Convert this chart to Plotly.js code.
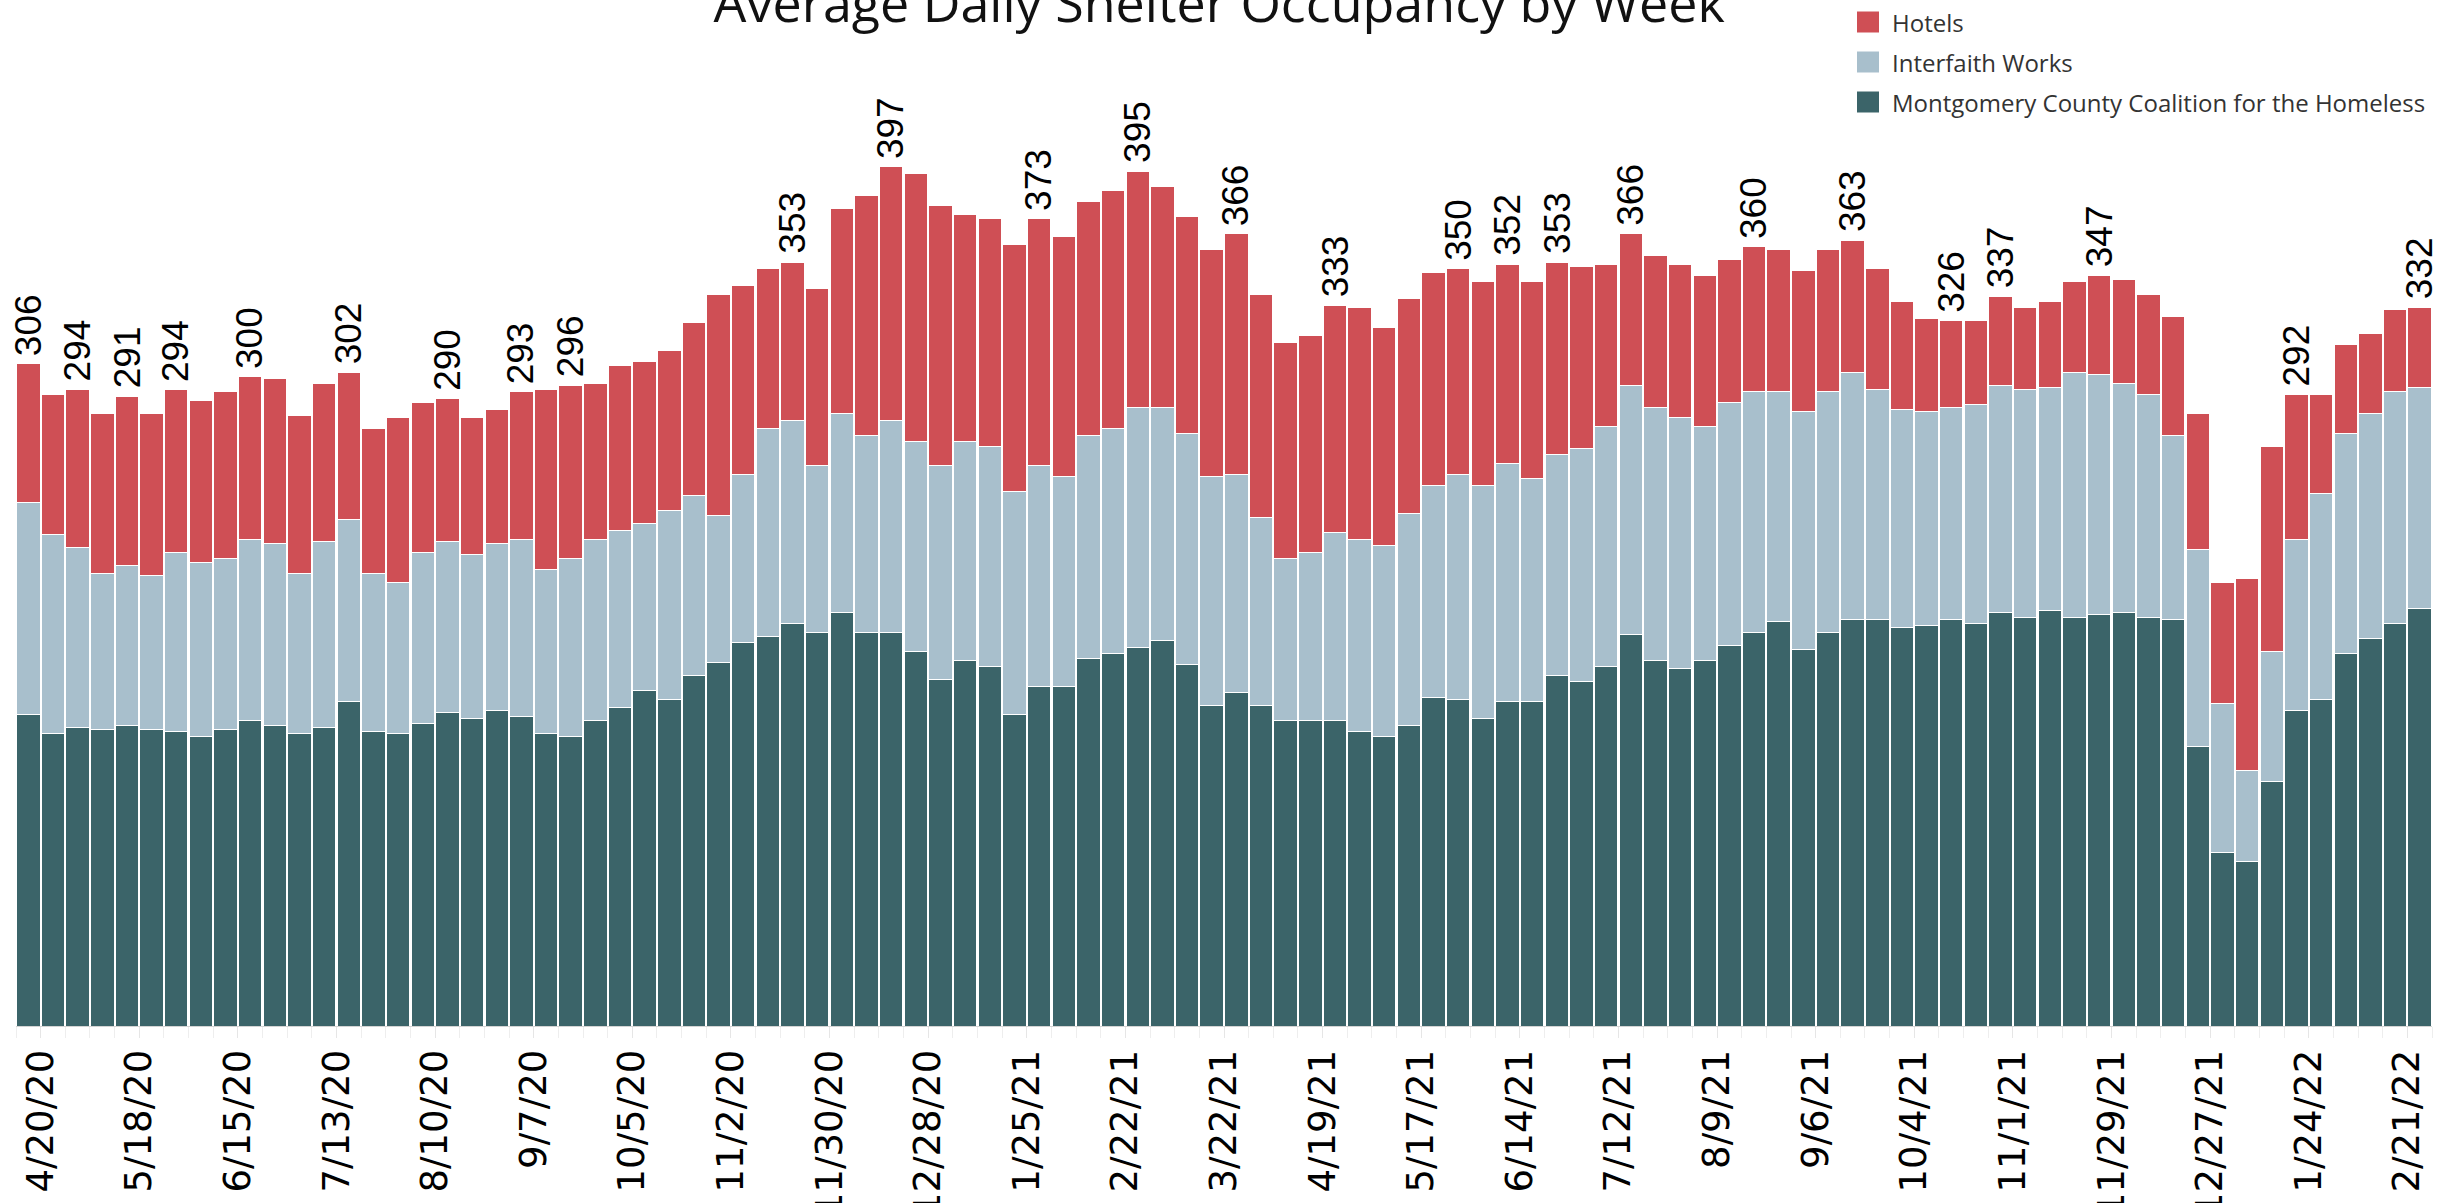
<!DOCTYPE html>
<html>
<head>
<meta charset="utf-8">
<script src="https://cdn.plot.ly/plotly-3.0.1.min.js"></script>
<style>
  html, body { margin: 0; padding: 0; background: #ffffff; }
  #chart { width: 2458px; height: 1203px; }
</style>
</head>
<body>
<div id="chart"></div>
<script>
// ---- data -------------------------------------------------------------
const weeks = [
  '2020-04-13','2020-04-20','2020-04-27','2020-05-04','2020-05-11','2020-05-18','2020-05-25','2020-06-01',
  '2020-06-08','2020-06-15','2020-06-22','2020-06-29','2020-07-06','2020-07-13','2020-07-20','2020-07-27',
  '2020-08-03','2020-08-10','2020-08-17','2020-08-24','2020-08-31','2020-09-07','2020-09-14','2020-09-21',
  '2020-09-28','2020-10-05','2020-10-12','2020-10-19','2020-10-26','2020-11-02','2020-11-09','2020-11-16',
  '2020-11-23','2020-11-30','2020-12-07','2020-12-14','2020-12-21','2020-12-28','2021-01-04','2021-01-11',
  '2021-01-18','2021-01-25','2021-02-01','2021-02-08','2021-02-15','2021-02-22','2021-03-01','2021-03-08',
  '2021-03-15','2021-03-22','2021-03-29','2021-04-05','2021-04-12','2021-04-19','2021-04-26','2021-05-03',
  '2021-05-10','2021-05-17','2021-05-24','2021-05-31','2021-06-07','2021-06-14','2021-06-21','2021-06-28',
  '2021-07-05','2021-07-12','2021-07-19','2021-07-26','2021-08-02','2021-08-09','2021-08-16','2021-08-23',
  '2021-08-30','2021-09-06','2021-09-13','2021-09-20','2021-09-27','2021-10-04','2021-10-11','2021-10-18',
  '2021-10-25','2021-11-01','2021-11-08','2021-11-15','2021-11-22','2021-11-29','2021-12-06','2021-12-13',
  '2021-12-20','2021-12-27','2022-01-03','2022-01-10','2022-01-17','2022-01-24','2022-01-31','2022-02-07',
  '2022-02-14','2022-02-21'
];

const mcch = [
  144,135,138,137,139,137,136,134,137,141,139,135,138,150,136,135,
  140,145,142,146,143,135,134,141,147,155,151,162,168,177,180,186,
  182,191,182,182,173,160,169,166,144,157,157,170,172,175,178,167,
  148,154,148,141,141,141,136,134,139,152,151,142,150,150,162,159,
  166,181,169,165,169,176,182,187,174,182,188,188,184,185,188,186,
  191,189,192,189,190,191,189,188,129,80,76,113,146,151,172,179,
  186,193
];

const interfaith = [
  98,92,83,72,74,71,83,80,79,84,84,74,86,84,73,70,
  79,79,76,77,82,76,82,84,82,77,87,83,68,78,96,94,
  77,92,91,98,97,99,101,102,103,102,97,103,104,111,108,107,
  106,101,87,75,78,87,89,88,98,98,104,108,110,103,102,108,
  111,115,117,116,108,112,111,106,110,111,114,106,101,99,98,101,
  105,105,103,113,111,106,103,85,91,69,42,60,79,95,102,104,
  107,102
];

const hotels = [
  64,65,73,74,78,75,75,75,77,75,76,73,73,68,67,76,
  69,66,63,62,68,83,80,72,76,75,74,80,102,87,74,73,
  82,95,111,117,124,120,105,105,114,114,111,108,110,109,102,100,
  105,111,103,100,100,105,107,101,99,98,95,94,92,91,89,84,
  75,70,70,71,70,66,67,66,65,66,61,56,50,43,40,39,
  41,38,40,42,46,48,46,55,63,56,89,95,67,46,41,37,
  38,37
];

// weeks whose total is printed above the bar (index into weeks)
const labeledWeeks = [0,2,4,6,9,13,17,20,22,31,35,41,45,49,53,58,60,62,65,70,74,78,80,84,92,97];

const tickLabels = [
  '4/20/20','5/18/20','6/15/20','7/13/20','8/10/20','9/7/20','10/5/20','11/2/20','11/30/20',
  '12/28/20','1/25/21','2/22/21','3/22/21','4/19/21','5/17/21','6/14/21','7/12/21','8/9/21',
  '9/6/21','10/4/21','11/1/21','11/29/21','12/27/21','1/24/22','2/21/22'
];

const seriesNames  = ['Montgomery County Coalition for the Homeless', 'Interfaith Works', 'Hotels'];
const seriesValues = [mcch, interfaith, hotels];
const seriesColors = ['#3b6469', '#a8bfcc', '#cf4f55'];

const chartTitle = 'Average Daily Shelter Occupancy by Week';

// ---- build ------------------------------------------------------------
const WEEK_MS = 7 * 24 * 3600 * 1000;

const traces = seriesValues.map((vals, k) => ({
  type: 'bar',
  name: seriesNames[k],
  x: weeks,
  y: vals,
  xperiod: WEEK_MS,
  xperiod0: weeks[0],
  xperiodalignment: 'middle',
  marker: { color: seriesColors[k], line: { color: '#ffffff', width: 1 } },
  showlegend: false,
  hoverinfo: 'skip'
}));

const totals = weeks.map((w, i) => mcch[i] + interfaith[i] + hotels[i]);

function midWeek(d) {
  const ms = Date.parse(d + 'T00:00:00Z') + WEEK_MS / 2;
  return new Date(ms).toISOString().replace('T', ' ').slice(0, 19);
}

function labelToDate(lbl) {
  const p = lbl.split('/');
  const mm = ('0' + p[0]).slice(-2), dd = ('0' + p[1]).slice(-2);
  return '20' + p[2] + '-' + mm + '-' + dd;
}

const annotations = labeledWeeks.map(i => ({
  x: midWeek(weeks[i]),
  y: totals[i],
  xref: 'x', yref: 'y',
  text: String(totals[i]),
  textangle: -90,
  showarrow: false,
  xanchor: 'center',
  yanchor: 'bottom',
  yshift: 6,
  font: { family: 'Liberation Sans, Arial, sans-serif', size: 37, color: '#000000' }
}));

// legend (drawn top-right, order: Hotels, Interfaith Works, MCCH)
const plotL = 16, plotR = 2432, plotT = 0, plotB = 1026;
const pxX = px => (px - plotL) / (plotR - plotL);
const pxY = py => (plotB - py) / (plotB - plotT);
const legendRows = [2, 1, 0];
const legendCenters = [22, 62, 102];
const shapes = [];
legendRows.forEach((k, r) => {
  const c = legendCenters[r];
  shapes.push({
    type: 'rect', xref: 'paper', yref: 'paper',
    x0: pxX(1857), x1: pxX(1879), y0: pxY(c + 10.5), y1: pxY(c - 10.5),
    fillcolor: seriesColors[k], line: { width: 0 }
  });
  annotations.push({
    xref: 'paper', yref: 'paper',
    x: pxX(1890), y: pxY(c),
    xanchor: 'left', yanchor: 'middle',
    text: seriesNames[k], showarrow: false,
    font: { family: 'Open Sans, sans-serif', size: 24, color: '#333333' }
  });
});

const layout = {
  width: 2458,
  height: 1203,
  margin: { l: plotL, r: 2458 - plotR, t: plotT, b: 1203 - plotB, pad: 0 },
  paper_bgcolor: '#ffffff',
  plot_bgcolor: '#ffffff',
  barmode: 'stack',
  bargap: 0.05,
  showlegend: false,
  title: {
    text: chartTitle,
    font: { family: 'Open Sans, sans-serif', size: 52, color: '#111111' },
    xref: 'container', yref: 'container',
    x: 0.496, xanchor: 'center',
    y: 1 - 22 / 1203, yanchor: 'bottom'
  },
  xaxis: {
    type: 'date',
    range: [weeks[0], '2022-02-28'],
    tickmode: 'array',
    tickvals: tickLabels.map(labelToDate),
    ticktext: tickLabels,
    tickangle: -90,
    ticks: 'outside',
    ticklen: 11,
    tickcolor: '#e6e6e6',
    tickwidth: 1,
    ticklabelstandoff: -3,
    minor: { ticks: 'outside', ticklen: 11, tickcolor: '#eeeeee', tickwidth: 1, dtick: WEEK_MS, tick0: weeks[0], showgrid: false },
    tickfont: { family: 'DejaVu Sans, Verdana, sans-serif', size: 37, color: '#000000' },
    showline: true,
    linecolor: '#d4d4d4',
    linewidth: 1,
    showgrid: false,
    zeroline: false,
    automargin: false,
    fixedrange: true
  },
  yaxis: {
    range: [0, 1026 / 2.164],
    visible: false,
    showgrid: false,
    zeroline: false,
    fixedrange: true
  },
  shapes: shapes,
  annotations: annotations
};

Plotly.newPlot('chart', traces, layout, { displayModeBar: false, staticPlot: true });
</script>
</body>
</html>
